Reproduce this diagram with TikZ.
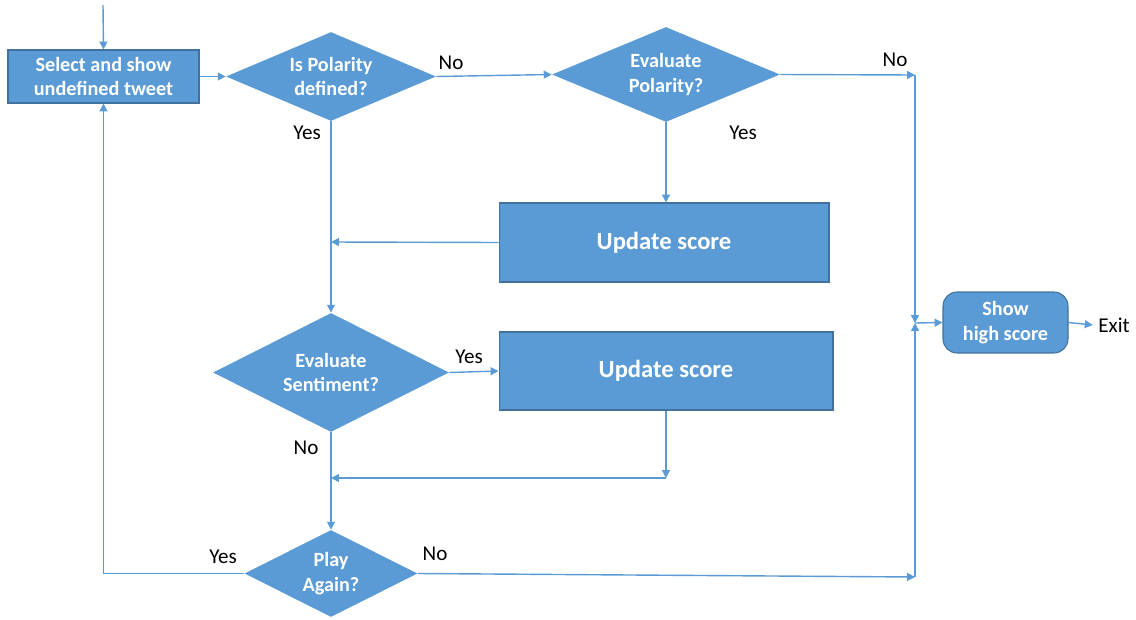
\documentclass[tikz,border=0pt]{standalone}
\usepackage{fontspec}
\setmainfont{Carlito}
\usetikzlibrary{positioning, arrows.meta, shapes.geometric}

\definecolor{boxblue}{HTML}{5B9BD5}
\definecolor{edgeblue}{HTML}{41719C}

\begin{document}
\begin{tikzpicture}[
  x=0.02cm, y=-0.02cm,
  >={Triangle[length=4.5pt,width=4.5pt]},
  %% Node styles
  process/.style={
    draw=edgeblue, fill=boxblue, line width=0.6pt,
    text=white, font=\fontsize{11.5}{14.2}\selectfont\bfseries,
    inner sep=0pt, align=center
  },
  bigprocess/.style={
    process, font=\fontsize{14}{17}\selectfont\bfseries
  },
  decision/.style={
    diamond, fill=boxblue, draw=none,
    text=white, font=\fontsize{11.5}{14.2}\selectfont\bfseries,
    inner sep=0pt, align=center
  },
  terminal/.style={
    process, rounded corners=8pt
  },
  answer/.style={
    font=\fontsize{12}{14}\selectfont, text=black, inner sep=0pt
  },
  flow/.style={draw=boxblue, line width=0.8pt},
]

\useasboundingbox (0,0) rectangle (1136,619);

%% ── NODES ─────────────────────────────────────────────────────────────────
\node[process, minimum width=3.82cm, minimum height=1.06cm] (sel) at (103.5,76.5)
  {Select and show\\undefined tweet};
\node[decision, minimum width=4.2cm, minimum height=1.78cm, aspect=2.36] (pol) at (331,76.5)
  {Is Polarity\\defined?};
\node[decision, minimum width=4.56cm, minimum height=1.9cm, aspect=2.4] (evp) at (666,74.5)
  {Evaluate\\Polarity?};
\node[bigprocess, minimum width=6.6cm, minimum height=1.58cm] (up1) at (664,242.5)
  {Update score};
\node[decision, minimum width=4.72cm, minimum height=2.38cm, aspect=1.98] (sent) at (331,372.5)
  {Evaluate\\Sentiment?};
\node[bigprocess, minimum width=6.68cm, minimum height=1.56cm] (up2) at (666,371)
  {Update score};
\node[decision, minimum width=3.46cm, minimum height=1.74cm, aspect=1.99] (play) at (331,573.5)
  {Play\\Again?};
\node[terminal, minimum width=2.5cm, minimum height=1.22cm] (hs) at (1005.5,322.5)
  {Show\\high score};
\node[answer, anchor=west] (exit) at (1098,325) {Exit};

%% ── ANSWER LABELS ─────────────────────────────────────────────────────────
\node[answer] (yes1) at (307,133) {Yes};
\node[answer] (no1)  at (451,63)  {No};
\node[answer] (no2)  at (895,60)  {No};
\node[answer] (yes2) at (743,133) {Yes};
\node[answer] (yes3) at (469,357) {Yes};
\node[answer] (no3)  at (306,448) {No};
\node[answer] (yes4) at (223,557) {Yes};
\node[answer] (no4)  at (435,554) {No};

%% ── JOINTS ────────────────────────────────────────────────────────────────
\coordinate (start) at (103,5);
\coordinate (r1) at (915,75);
\coordinate (r2) at (915,577);
\coordinate (j)  at (915,323);
\coordinate (m1) at (331,242);
\coordinate (m2) at (666,478);
\coordinate (m3) at (331,478);

%% ── CONNECTORS ────────────────────────────────────────────────────────────
\draw[flow, ->] (start) -- (sel.north);
\draw[flow, ->] (sel.east) -- (pol.west);
\draw[flow, ->] (pol.east) -- (evp.west);
\draw[flow, ->] (evp.east) -- (r1);
\draw[flow, ->] (r1) -- (j);
\draw[flow, ->] (r2) -- (j);
\draw[flow, ->] (j) -- (hs.west);
\draw[flow, ->] (hs.east) -- ([xshift=-3pt]exit.west);

\draw[flow, ->] (evp.south) -- (evp.south |- up1.north);
\draw[flow, ->] (up1.west) -- (m1);
\draw[flow, ->] (pol.south) -- (sent.north);

\draw[flow, ->] (sent.east) -- (up2.west);
\draw[flow, ->] (up2.south) -- (m2);
\draw[flow, ->] (m2) -- (m3);
\draw[flow, ->] (sent.south) -- (play.north);

\draw[flow, ->] (play.east) -- (r2);
\draw[flow, ->] (play.west) -| (sel.south);

\end{tikzpicture}
\end{document}
